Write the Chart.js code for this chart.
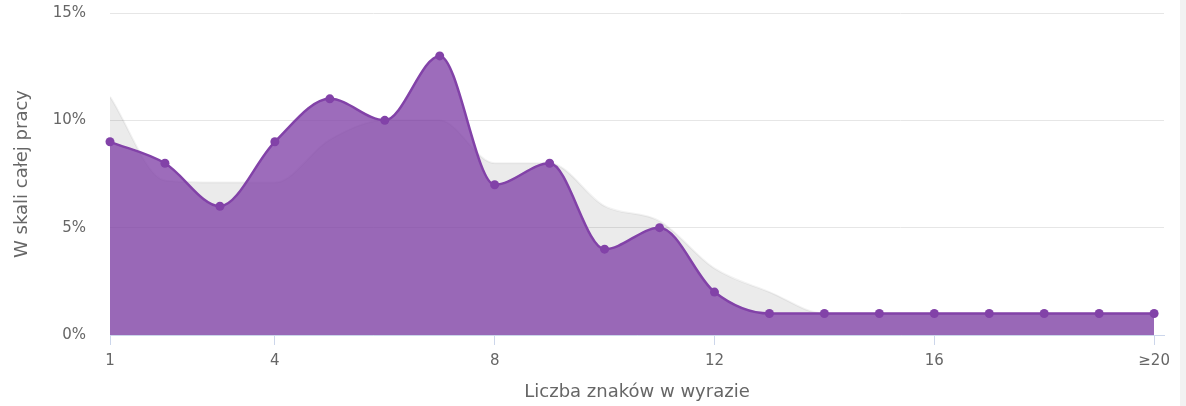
<!DOCTYPE html>
<html>
<head>
<meta charset="utf-8">
<script src="https://cdn.jsdelivr.net/npm/chart.js@4.4.1/dist/chart.umd.min.js"></script>
<style>
    body { margin: 0; background: #fff; }
    #wrap { position: relative; width: 1186px; height: 406px; }
    #side { position: absolute; right: 0; top: 0; width: 6px; height: 406px; background: #f2f2f2; }
</style>
</head>
<body>
<div id="wrap">
    <canvas id="can" width="1186" height="406"></canvas>
    <div id="side"></div>
</div>
<script>
// word length categories (x axis)
var categories = ['1','2','3','4','5','6','7','8','9','10','11','12','13','14','15','16','17','18','19','≥20'];
var tickValues = [1, 4, 8, 12, 16, 20];

// share of words, in %
var thisWork = [9, 8, 6, 9, 11, 10, 13, 7, 8, 4, 5, 2, 1, 1, 1, 1, 1, 1, 1, 1];
var allWorks = [11.1, 7.2, 7.1, 7.1, 9.1, 10, 10, 8, 8, 6, 5.3, 3.1, 2, 1, 1, 1, 1, 1, 1, 1];

var yTicks = [0, 5, 10, 15];

function toPoints(arr) {
    var pts = [];
    for (var i in arr) {
        pts.push({ x: Number(i) + 1, y: arr[i] });
    }
    return pts;
}

var font = 'DejaVu Sans';

var ctx = document.getElementById('can').getContext('2d');

window.myChart = new Chart(ctx, {
    type: 'line',
    data: {
        datasets: [
            {
                label: 'praca',
                data: toPoints(thisWork),
                borderColor: 'rgb(130, 66, 168)',
                backgroundColor: 'rgba(130, 66, 168, 0.78)',
                borderWidth: 2.5,
                pointRadius: 4.5,
                pointBorderWidth: 0,
                pointBackgroundColor: 'rgb(130, 66, 168)',
                fill: 'origin',
                cubicInterpolationMode: 'monotone',
                clip: 8,
                order: 1
            },
            {
                label: 'wszystkie',
                data: toPoints(allWorks),
                borderColor: 'rgba(0, 0, 0, 0.05)',
                backgroundColor: 'rgba(0, 0, 0, 0.08)',
                borderWidth: 2,
                pointRadius: 0,
                fill: 'origin',
                cubicInterpolationMode: 'monotone',
                order: 2
            }
        ]
    },
    options: {
        responsive: false,
        animation: false,
        layout: {
            padding: { top: 13, right: 22, left: 0, bottom: 0 }
        },
        plugins: {
            legend: { display: false },
            tooltip: { enabled: false }
        },
        scales: {
            x: {
                type: 'linear',
                min: 1,
                max: 20.18,
                afterBuildTicks: function (scale) {
                    scale.ticks = tickValues.map(function (v) { return { value: v }; });
                },
                afterFit: function (scale) {
                    scale.height = 71;
                    scale.paddingLeft = 0;
                    scale.paddingRight = 0;
                },
                ticks: {
                    autoSkip: false,
                    maxRotation: 0,
                    padding: 7,
                    color: '#666',
                    font: { family: font, size: 15 },
                    callback: function (value) {
                        return categories[value - 1];
                    }
                },
                grid: {
                    drawOnChartArea: false,
                    drawTicks: true,
                    tickLength: 10,
                    color: '#ccd6eb'
                },
                border: { color: '#ccd6eb', width: 1 },
                title: {
                    display: true,
                    text: 'Liczba znaków w wyrazie',
                    color: '#666',
                    font: { family: font, size: 18 },
                    padding: { top: 0, bottom: 3 }
                }
            },
            y: {
                min: 0,
                max: 15,
                afterBuildTicks: function (scale) {
                    scale.ticks = yTicks.map(function (v) { return { value: v }; });
                },
                afterFit: function (scale) {
                    scale.width = 110;
                    scale.paddingTop = 0;
                    scale.paddingBottom = 0;
                },
                ticks: {
                    padding: 24,
                    color: '#666',
                    font: { family: font, size: 15 },
                    callback: function (value) {
                        return value + '%';
                    }
                },
                grid: {
                    color: '#e6e6e6',
                    drawTicks: false
                },
                border: { display: false },
                title: {
                    display: true,
                    text: 'W skali całej pracy',
                    color: '#666',
                    font: { family: font, size: 18 },
                    padding: { top: 12, bottom: 0 }
                }
            }
        }
    }
});
</script>
</body>
</html>
